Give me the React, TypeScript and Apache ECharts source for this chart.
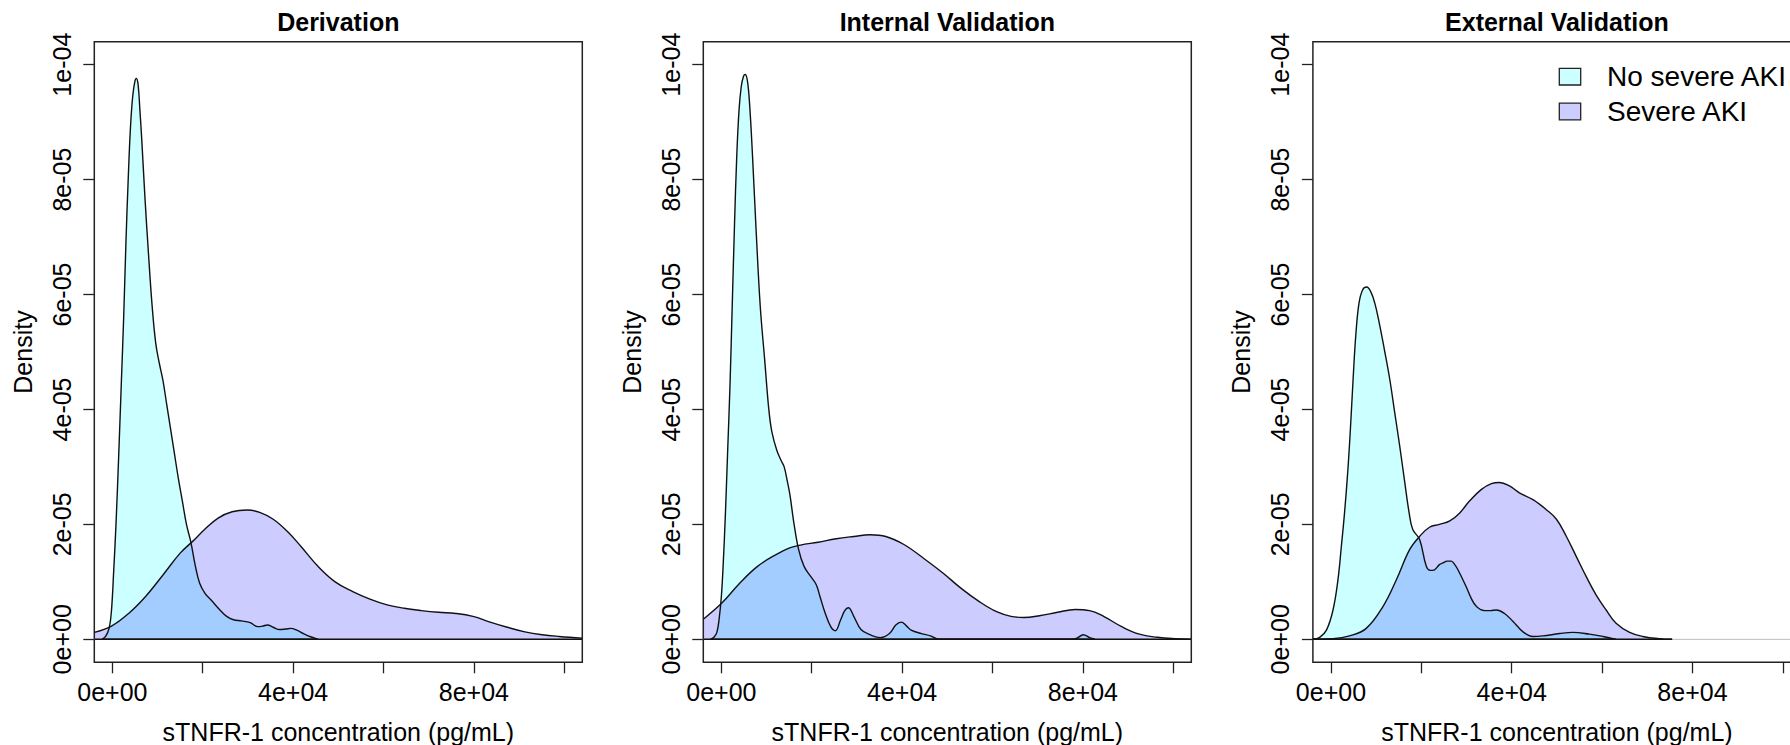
import React, { useEffect, useRef } from "react";
import * as echarts from "echarts";

// ---------- data ----------
const panelTitles = ["Derivation", "Internal Validation", "External Validation"];
const legendNames = ["No severe AKI", "Severe AKI"];
const xTitle = "sTNFR-1 concentration (pg/mL)";
const yTitle = "Density";

const xMin = -4000;
const xMax = 104000;
const yMin = -0.000004;
const yMax = 0.000104;

const xTickValues = [0, 20000, 40000, 60000, 80000, 100000];
const xLabelValues = [0, 40000, 80000];
const xLabelTexts = ["0e+00", "4e+04", "8e+04"];
const yTickValues = [0, 0.00002, 0.00004, 0.00006, 0.00008, 0.0001];
const yLabelTexts = ["0e+00", "2e-05", "4e-05", "6e-05", "8e-05", "1e-04"];

// Derivation
const noSevereDerivation: [number, number][] = [
  [-2300, 0], [-1500, 0.05e-5], [-700, 0.2e-5], [-200, 0.5e-5], [300, 1.2e-5], [800, 2.0e-5],
  [1400, 3.2e-5], [2000, 4.5e-5], [2500, 5.6e-5], [3000, 6.9e-5], [3500, 8.0e-5], [4000, 8.9e-5],
  [4500, 9.45e-5], [5000, 9.72e-5], [5300, 9.76e-5], [5700, 9.65e-5], [6100, 9.2e-5], [6500, 8.7e-5],
  [7200, 7.7e-5], [8000, 6.7e-5], [8800, 5.8e-5], [9600, 5.15e-5], [10400, 4.8e-5], [11200, 4.5e-5],
  [12000, 4.1e-5], [12800, 3.7e-5], [13600, 3.3e-5], [14600, 2.8e-5], [15500, 2.4e-5], [16400, 2.0e-5],
  [17400, 1.68e-5], [18300, 1.3e-5], [19300, 0.98e-5], [20500, 0.8e-5], [22000, 0.67e-5], [23700, 0.52e-5],
  [25300, 0.4e-5], [26800, 0.34e-5], [28600, 0.32e-5], [30500, 0.29e-5], [32200, 0.22e-5], [33300, 0.23e-5],
  [34300, 0.25e-5], [35600, 0.21e-5], [37000, 0.17e-5], [38400, 0.18e-5], [39500, 0.19e-5], [40800, 0.16e-5],
  [42300, 0.1e-5], [44000, 0.04e-5], [45500, 0],
];
const severeDerivation: [number, number][] = [
  [-4000, 0.12e-5], [-200, 0.23e-5], [3600, 0.45e-5], [7400, 0.75e-5], [11200, 1.12e-5], [15000, 1.5e-5],
  [17700, 1.7e-5], [20400, 1.91e-5], [23400, 2.11e-5], [26500, 2.22e-5], [29900, 2.25e-5], [32600, 2.21e-5],
  [35600, 2.09e-5], [38700, 1.88e-5], [41700, 1.62e-5], [45500, 1.27e-5], [49300, 1.0e-5], [53200, 0.83e-5],
  [57000, 0.7e-5], [60800, 0.6e-5], [64600, 0.54e-5], [68400, 0.5e-5], [72200, 0.47e-5], [76000, 0.45e-5],
  [79800, 0.4e-5], [83600, 0.3e-5], [87400, 0.21e-5], [91300, 0.13e-5], [95100, 0.08e-5], [98900, 0.05e-5],
  [104000, 0.02e-5],
];

// Internal validation
const noSevereInternal: [number, number][] = [
  [-2400, 0], [-1600, 0.04e-5], [-1000, 0.12e-5], [-500, 0.35e-5], [0, 0.75e-5], [400, 1.3e-5],
  [900, 2.2e-5], [1400, 3.3e-5], [1900, 4.4e-5], [2400, 5.8e-5], [2900, 7.2e-5], [3400, 8.4e-5],
  [3900, 9.2e-5], [4400, 9.62e-5], [4900, 9.8e-5], [5300, 9.83e-5], [5800, 9.7e-5], [6300, 9.25e-5],
  [6900, 8.4e-5], [7700, 7.1e-5], [8600, 5.8e-5], [9600, 4.85e-5], [10500, 4.0e-5], [11200, 3.6e-5],
  [12300, 3.28e-5], [13300, 3.1e-5], [13900, 3.0e-5], [14600, 2.75e-5], [15200, 2.5e-5], [16000, 2.05e-5],
  [17100, 1.56e-5], [18300, 1.27e-5], [19800, 1.09e-5], [21000, 0.95e-5], [21800, 0.75e-5], [23000, 0.45e-5],
  [24200, 0.22e-5], [25200, 0.15e-5], [26400, 0.34e-5], [27300, 0.5e-5], [28100, 0.55e-5], [29300, 0.4e-5],
  [30900, 0.17e-5], [32900, 0.08e-5], [35200, 0.03e-5], [37200, 0.1e-5], [38600, 0.25e-5], [39800, 0.3e-5],
  [41000, 0.23e-5], [42000, 0.16e-5], [44300, 0.1e-5], [46300, 0.06e-5], [48300, 0], [60000, 0],
  [77500, 0], [78700, 0.02e-5], [80100, 0.08e-5], [81500, 0.03e-5], [82700, 0],
];
const severeInternal: [number, number][] = [
  [-4000, 0.35e-5], [100, 0.63e-5], [4100, 0.98e-5], [8000, 1.27e-5], [12000, 1.47e-5], [15100, 1.59e-5],
  [17500, 1.64e-5], [21400, 1.69e-5], [25400, 1.75e-5], [29300, 1.79e-5], [32900, 1.82e-5], [36400, 1.79e-5],
  [40400, 1.65e-5], [45100, 1.39e-5], [49100, 1.15e-5], [53000, 0.89e-5], [57000, 0.66e-5], [60900, 0.48e-5],
  [64100, 0.4e-5], [66900, 0.38e-5], [70400, 0.41e-5], [74400, 0.47e-5], [78300, 0.52e-5], [81500, 0.5e-5],
  [84600, 0.4e-5], [88600, 0.22e-5], [92500, 0.09e-5], [96500, 0.035e-5], [100400, 0.01e-5], [104000, 0],
];

// External validation
const noSevereExternal: [number, number][] = [
  [-4000, 0], [-2500, 0.035e-5], [-1000, 0.16e-5], [450, 0.51e-5], [1550, 1.04e-5], [2300, 1.62e-5],
  [3000, 2.2e-5], [3750, 2.96e-5], [4300, 3.66e-5], [4900, 4.53e-5], [5500, 5.3e-5], [6200, 5.85e-5],
  [7000, 6.08e-5], [7900, 6.13e-5], [8800, 6.05e-5], [9700, 5.85e-5], [10700, 5.5e-5], [11800, 5.05e-5],
  [13000, 4.53e-5], [14100, 3.95e-5], [15200, 3.37e-5], [16300, 2.75e-5], [17300, 2.2e-5], [18100, 1.91e-5],
  [19600, 1.74e-5], [21100, 1.27e-5], [22000, 1.2e-5], [22900, 1.21e-5], [24000, 1.3e-5], [24800, 1.33e-5],
  [25700, 1.36e-5], [26600, 1.36e-5], [27400, 1.3e-5], [28100, 1.21e-5], [29900, 0.92e-5], [31000, 0.72e-5],
  [32200, 0.57e-5], [34000, 0.5e-5], [35300, 0.5e-5], [36600, 0.51e-5], [38400, 0.45e-5], [40300, 0.31e-5],
  [42500, 0.13e-5], [44700, 0.05e-5], [46900, 0.06e-5], [50600, 0.1e-5], [53500, 0.12e-5], [57200, 0.09e-5],
  [60200, 0.05e-5], [63100, 0],
];
const severeExternal: [number, number][] = [
  [-4000, 0], [450, 0.01e-5], [4100, 0.06e-5], [7800, 0.19e-5], [11500, 0.57e-5], [14500, 1.04e-5],
  [17400, 1.56e-5], [19600, 1.79e-5], [21800, 1.95e-5], [24000, 2.0e-5], [26300, 2.06e-5], [28500, 2.2e-5],
  [30700, 2.41e-5], [33300, 2.61e-5], [35500, 2.71e-5], [37300, 2.73e-5], [39500, 2.67e-5], [41700, 2.55e-5],
  [44700, 2.43e-5], [47600, 2.26e-5], [49900, 2.09e-5], [52100, 1.79e-5], [54300, 1.44e-5], [56500, 1.09e-5],
  [58700, 0.77e-5], [60900, 0.51e-5], [63100, 0.28e-5], [66100, 0.12e-5], [69000, 0.05e-5], [72700, 0.01e-5],
  [75500, 0],
];

const noSevereSets = [noSevereDerivation, noSevereInternal, noSevereExternal];
const severeSets = [severeDerivation, severeInternal, severeExternal];

// ---------- styling ----------
const FONT = "'Liberation Sans', Arial, Helvetica, sans-serif";
const CYAN = "rgba(0,255,255,0.2)";
const BLUE = "rgba(0,0,255,0.2)";
const LINE = "#111";
const SMOOTH = 0.4;
const gridLefts = [94.3, 703.3, 1312.9];
const gridTop = 41.7;
const gridW = 488;
const gridH = 620.6;

function nearestLabel(v: number, vals: number[], texts: string[], eps: number) {
  for (let i = 0; i < vals.length; i++) if (Math.abs(vals[i] - v) < eps) return texts[i];
  return "";
}

export default function App() {
  const ref = useRef<HTMLDivElement>(null);
  useEffect(() => {
    if (!ref.current) return;
    const chart = echarts.init(ref.current, undefined, { renderer: "svg" });

    const grids = gridLefts.map((left) => ({
      left, top: gridTop, width: gridW, height: gridH, show: true,
      borderColor: "#222", borderWidth: 1.5, backgroundColor: "transparent",
      containLabel: false, outerBoundsMode: "none",
    }));

    const xAxes = gridLefts.map((_, i) => ({
      gridIndex: i, type: "value", min: xMin, max: xMax,
      axisLine: { show: false, onZero: false },
      splitLine: { show: false },
      axisTick: { show: true, length: 11, lineStyle: { color: "#222", width: 1.3 }, customValues: xTickValues },
      axisLabel: {
        customValues: xLabelValues, margin: 17, color: "#000", fontSize: 25, fontFamily: FONT,
        formatter: (v: number) => nearestLabel(v, xLabelValues, xLabelTexts, 1),
      },
      name: xTitle, nameLocation: "middle", nameGap: 57,
      nameTextStyle: { color: "#000", fontSize: 25, fontFamily: FONT },
    }));

    const yAxes = gridLefts.map((_, i) => ({
      gridIndex: i, type: "value", min: yMin, max: yMax,
      axisLine: { show: false, onZero: false },
      splitLine: { show: false },
      axisTick: { show: true, length: 11, lineStyle: { color: "#222", width: 1.3 }, customValues: yTickValues },
      axisLabel: {
        customValues: yTickValues, rotate: 90, margin: 20, color: "#000", fontSize: 25, fontFamily: FONT,
        formatter: (v: number) => nearestLabel(v, yTickValues, yLabelTexts, 1e-9),
      },
      name: yTitle, nameLocation: "middle", nameGap: 59,
      nameTextStyle: { color: "#000", fontSize: 25, fontFamily: FONT },
    }));

    const series: any[] = [];
    const baseCommon = { type: "line", showSymbol: false, symbol: "none", silent: true };
    for (let i = 0; i < 3; i++) {
      const ax = { xAxisIndex: i, yAxisIndex: i };
      series.push({ ...baseCommon, ...ax, data: [[xMin, 0], [xMax, 0]], lineStyle: { color: "#bbb", width: 1 } });
      const a = noSevereSets[i];
      series.push({
        ...baseCommon, ...ax, name: legendNames[0], data: a, smooth: SMOOTH,
        lineStyle: { color: LINE, width: 1.4 }, areaStyle: { color: CYAN, opacity: 1 },
      });
      series.push({ ...baseCommon, ...ax, data: [[a[0][0], 0], [a[a.length - 1][0], 0]], lineStyle: { color: LINE, width: 1.4 } });
      const b = severeSets[i];
      series.push({
        ...baseCommon, ...ax, name: legendNames[1], data: b, smooth: SMOOTH,
        lineStyle: { color: LINE, width: 1.4 }, areaStyle: { color: BLUE, opacity: 1 },
      });
      series.push({ ...baseCommon, ...ax, data: [[b[0][0], 0], [b[b.length - 1][0], 0]], lineStyle: { color: LINE, width: 1.4 } });
    }

    const graphics: any[] = panelTitles.map((t, i) => ({
      type: "text", x: gridLefts[i] + gridW / 2, y: 22, silent: true,
      style: { text: t, font: `bold 25px ${FONT}`, fill: "#000", align: "center", verticalAlign: "middle" },
    }));
    const legendFills = [CYAN, BLUE];
    legendNames.forEach((n, k) => {
      const cy = 76.7 + k * 34.8;
      graphics.push({
        type: "rect", shape: { x: 1559.3, y: cy - 8.3, width: 21.4, height: 16.6 }, silent: true,
        style: { fill: legendFills[k], stroke: "#222", lineWidth: 1.3 },
      });
      graphics.push({
        type: "text", x: 1607, y: cy, silent: true,
        style: { text: n, font: `28px ${FONT}`, fill: "#000", align: "left", verticalAlign: "middle" },
      });
    });

    chart.setOption({
      animation: false,
      backgroundColor: "#fff",
      grid: grids,
      xAxis: xAxes,
      yAxis: yAxes,
      series,
      graphic: graphics,
    });
    return () => chart.dispose();
  }, []);
  return <div ref={ref} style={{ position: "fixed", left: 0, top: 0, width: 1790, height: 745 }} />;
}
